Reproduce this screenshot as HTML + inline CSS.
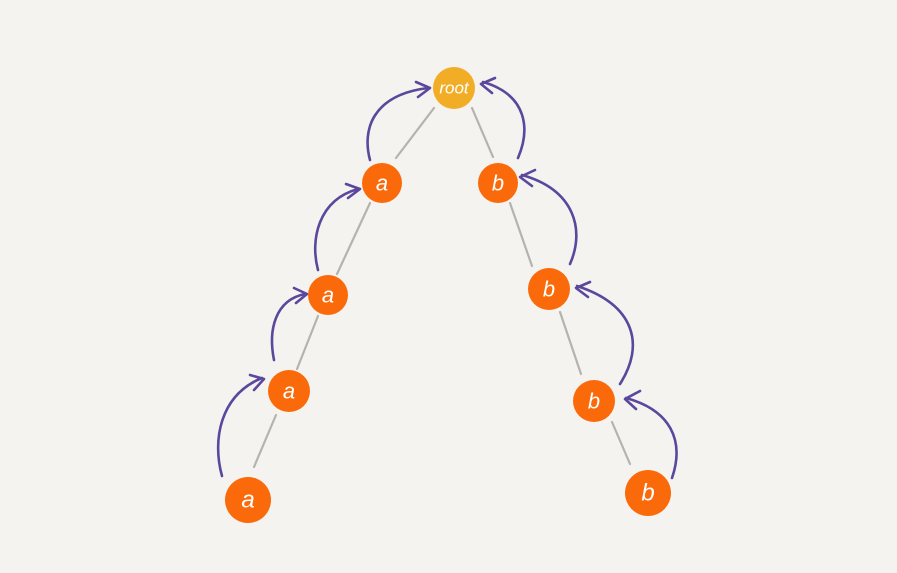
<!DOCTYPE html>
<html><head><meta charset="utf-8"><style>
html,body{margin:0;padding:0;background:#f4f3ef;}
svg{display:block}
text{font-family:"Liberation Sans",sans-serif;font-style:italic;fill:#fff;text-anchor:middle;dominant-baseline:central}
</style></head><body>
<svg width="897" height="573" viewBox="0 0 897 573">
<rect width="897" height="573" fill="#f4f3ef"/>
<g stroke="#b5b3ad" stroke-width="2.2" stroke-linecap="round">
<line x1="434" y1="108" x2="396" y2="158"/>
<line x1="472" y1="108" x2="493" y2="157"/>
<line x1="370" y1="203" x2="337" y2="274"/>
<line x1="318" y1="316" x2="297" y2="369"/>
<line x1="276" y1="415" x2="254" y2="467"/>
<line x1="510" y1="203" x2="532" y2="266"/>
<line x1="560" y1="312" x2="581" y2="374"/>
<line x1="612" y1="422" x2="630" y2="464"/>
</g>
<g stroke="#5b479c" stroke-width="2.6" fill="none" stroke-linecap="round" stroke-linejoin="round">
<path d="M370 160 C362 130 372 95 428 88"/><path d="M416 82 L430 88 L418 97"/>
<path d="M518 158 C530 130 528 95 483 82"/><path d="M495 78 L481 84 L492 93"/>
<path d="M318 270 C310 240 318 200 358 189"/><path d="M346 184 L360 189 L348 198"/>
<path d="M570 264 C585 230 575 190 522 175"/><path d="M535 170 L520 177 L532 186"/>
<path d="M274 360 C268 330 275 300 305 294"/><path d="M294 288 L307 294 L296 303"/>
<path d="M620 384 C645 345 635 305 577 286"/><path d="M590 282 L576 288 L588 297"/>
<path d="M222 476 C212 440 220 395 262 378"/><path d="M250 375 L264 379 L254 390"/>
<path d="M672 478 C685 440 670 410 626 398"/><path d="M640 391 L625 399 L636 409"/>
</g>
<circle cx="454" cy="88" r="21" fill="#f2ad26"/>
<g fill="#fa6a0a">
<circle cx="382" cy="183" r="20"/>
<circle cx="498" cy="183" r="20"/>
<circle cx="328" cy="295" r="20"/>
<circle cx="549" cy="289" r="21"/>
<circle cx="289" cy="391" r="21"/>
<circle cx="594" cy="401" r="21"/>
<circle cx="248" cy="500" r="23"/>
<circle cx="648" cy="493" r="23"/>
</g>
<text x="454" y="88" font-size="17">root</text>
<text x="382" y="183" font-size="22">a</text>
<text x="498" y="183" font-size="22">b</text>
<text x="328" y="295" font-size="22">a</text>
<text x="549" y="289" font-size="22">b</text>
<text x="289" y="391" font-size="22">a</text>
<text x="594" y="401" font-size="22">b</text>
<text x="248" y="500" font-size="24">a</text>
<text x="648" y="493" font-size="24">b</text>
</svg>
</body></html>
